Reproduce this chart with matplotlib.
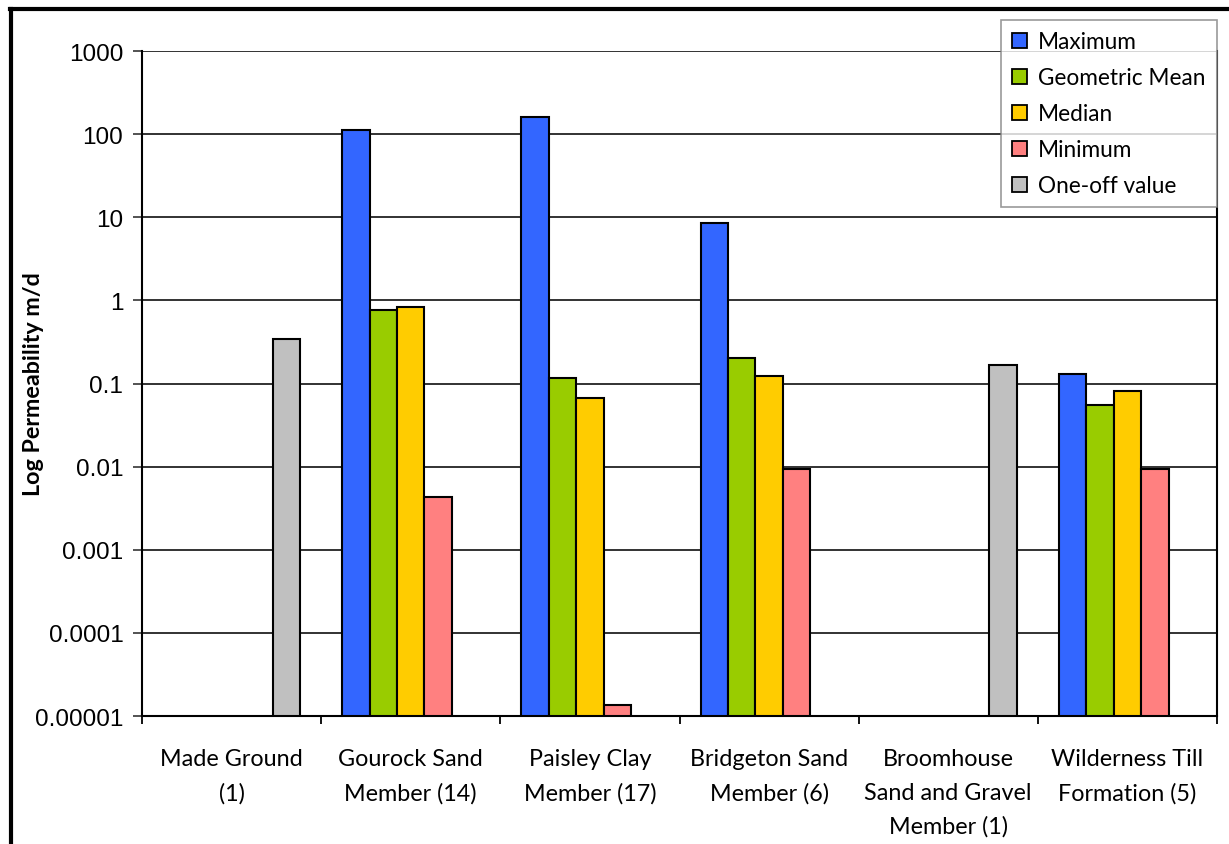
import numpy as np
import matplotlib.pyplot as plt
from matplotlib.lines import Line2D

# Permeability summary per geological unit (m/d), log scale
units = ["Made Ground\n(1)", "Gourock Sand\nMember (14)", "Paisley Clay\nMember (17)",
         "Bridgeton Sand\nMember (6)", "Broomhouse\nSand and Gravel\nMember (1)",
         "Wilderness Till\nFormation (5)"]
maximum = [np.nan, 113, 162, 8.6, np.nan, 0.13]
geo_mean = [np.nan, 0.77, 0.116, 0.203, np.nan, 0.055]
median = [np.nan, 0.84, 0.067, 0.122, np.nan, 0.082]
minimum = [np.nan, 0.0043, 0.0000137, 0.0093, np.nan, 0.0093]
one_off = [0.34, np.nan, np.nan, np.nan, 0.167, np.nan]

series = [("Maximum", maximum, "#3366ff"),
          ("Geometric Mean", geo_mean, "#99cc00"),
          ("Median", median, "#ffcc00"),
          ("Minimum", minimum, "#ff8080"),
          ("One-off value", one_off, "#c0c0c0")]
y_ticks = [1e-5, 1e-4, 1e-3, 1e-2, 1e-1, 1, 10, 100, 1000]
y_labels = ["0.00001", "0.0001", "0.001", "0.01", "0.1", "1", "10", "100", "1000"]

W, H = 1229, 845
fig = plt.figure(figsize=(W / 100, H / 100), dpi=100)
ax = fig.add_axes([142 / W, 1 - 717 / H, 1075 / W, 665 / H])

base = 1e-5
bw = 0.153
x = np.arange(len(units))
for i, (name, vals, col) in enumerate(series):
    v = np.array(vals, dtype=float)
    ax.bar(x + (i - 2) * bw, v - base, bottom=base, width=bw, color=col,
           edgecolor="black", linewidth=1.5, label=name, zorder=3)

ax.set_yscale("log")
ax.set_ylim(1e-5, 1000)
ax.set_xlim(-0.5, len(units) - 0.5)
ax.set_yticks(y_ticks)
ax.set_yticklabels(y_labels, fontfamily="Liberation Sans", fontsize=17.5)
ax.minorticks_off()
ax.yaxis.grid(True, color="#222222", linewidth=1.3, zorder=0)
ax.tick_params(axis="y", length=6.5, width=1.3, pad=7, color="#444444")

# category boundaries as ticks, names centred between them
ax.set_xticks(np.arange(len(units) + 1) - 0.5)
ax.set_xticklabels([])
ax.set_xticks(x, minor=True)
ax.set_xticklabels(units, minor=True, fontfamily="Lato", fontsize=16.8,
                   linespacing=1.74, va="top")
ax.tick_params(axis="x", which="major", length=6, width=1.3)
ax.tick_params(axis="x", which="minor", length=0, pad=23)

for s in ("left", "bottom", "right"):
    ax.spines[s].set_linewidth(1.5)
    ax.spines[s].set_color("black")
ax.spines["top"].set_visible(False)

ax.set_ylabel("Log Permeability m/d", fontfamily="Lato", fontweight="bold",
              fontsize=16.8)
ax.yaxis.set_label_coords(-0.091, 0.5)

leg = ax.legend(loc="upper right", bbox_to_anchor=(1.0, 1.0466), borderaxespad=0,
                prop={"family": "Lato", "size": 16.3}, frameon=True, fancybox=False,
                handlelength=0.66, handleheight=0.66, handletextpad=0.5,
                labelspacing=0.66, borderpad=0.5)
leg.get_frame().set_edgecolor("#808080")
leg.get_frame().set_linewidth(1.2)
for h in leg.legend_handles:
    h.set_linewidth(1.3)
leg.set_zorder(5)

# outer chart frame (left and top edges)
fig.add_artist(Line2D([11 / W, 11 / W], [0, 1 - 10 / H], color="black", linewidth=3,
                      transform=fig.transFigure))
fig.add_artist(Line2D([10 / W, 1], [1 - 10 / H, 1 - 10 / H], color="black", linewidth=3,
                      transform=fig.transFigure))

fig.savefig("out.png", dpi=100)
